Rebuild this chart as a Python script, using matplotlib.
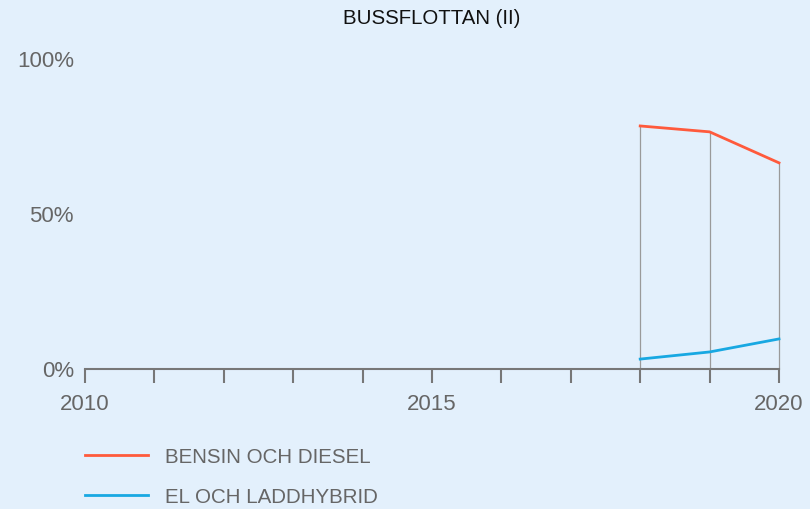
import matplotlib.pyplot as plt
from matplotlib.lines import Line2D

plt.rcParams["font.family"] = ["Liberation Sans", "DejaVu Sans"]

years = [2018, 2019, 2020]
bensin_diesel = [78.4, 76.5, 66.5]
el_laddhybrid = [3.2, 5.5, 9.7]
tick_years = list(range(2010, 2021))
tick_labels = {2010: "2010", 2015: "2015", 2020: "2020"}
y_ticks = [0, 50, 100]

bg = "#E3F0FC"
grey = "#777777"
red = "#FF5A3C"
blue = "#18A8E2"

fig = plt.figure(figsize=(8.1, 5.09), dpi=100, facecolor=bg)
ax = fig.add_axes([85 / 810, 1 - 369 / 509, (779 - 85) / 810, 310 / 509])
ax.set_facecolor(bg)

# vertical guide lines up to top series
ax.vlines(years, 0, bensin_diesel, color="#9a9a9a", lw=0.9, zorder=1, clip_on=False)
ax.plot(years, bensin_diesel, color=red, lw=2, zorder=3, clip_on=False)
ax.plot(years, el_laddhybrid, color=blue, lw=2, zorder=3, clip_on=False)

ax.set_xlim(2010, 2020)
ax.set_ylim(0, 100)
for s in ["top", "right", "left"]:
    ax.spines[s].set_visible(False)
ax.spines["bottom"].set_color(grey)
ax.spines["bottom"].set_linewidth(1.5)

ax.set_xticks(tick_years)
ax.set_xticklabels([tick_labels.get(y, "") for y in tick_years])
ax.tick_params(axis="x", direction="out", length=10, width=1.5, color=grey,
               labelcolor="#666666", labelsize=16, pad=8)
ax.set_yticks(y_ticks)
ax.set_yticklabels([f"{v}%" for v in y_ticks])
ax.tick_params(axis="y", length=0, labelcolor="#666666", labelsize=16, pad=8)

fig.text(432 / 810, 1 - 18 / 509, "BUSSFLOTTAN (II)", ha="center", va="center",
         fontsize=14.7, color="#111111")

# legend
for i, (lab, col) in enumerate([("BENSIN OCH DIESEL", red), ("EL OCH LADDHYBRID", blue)]):
    yy = 1 - (455 + 40 * i) / 509
    fig.add_artist(Line2D([85 / 810, 148 / 810], [yy, yy], color=col, lw=2,
                          transform=fig.transFigure))
    fig.text(165 / 810, yy - 0.004, lab, ha="left", va="center", fontsize=14.8,
             color="#666666")

fig.savefig("out.png", dpi=100, facecolor=bg)
